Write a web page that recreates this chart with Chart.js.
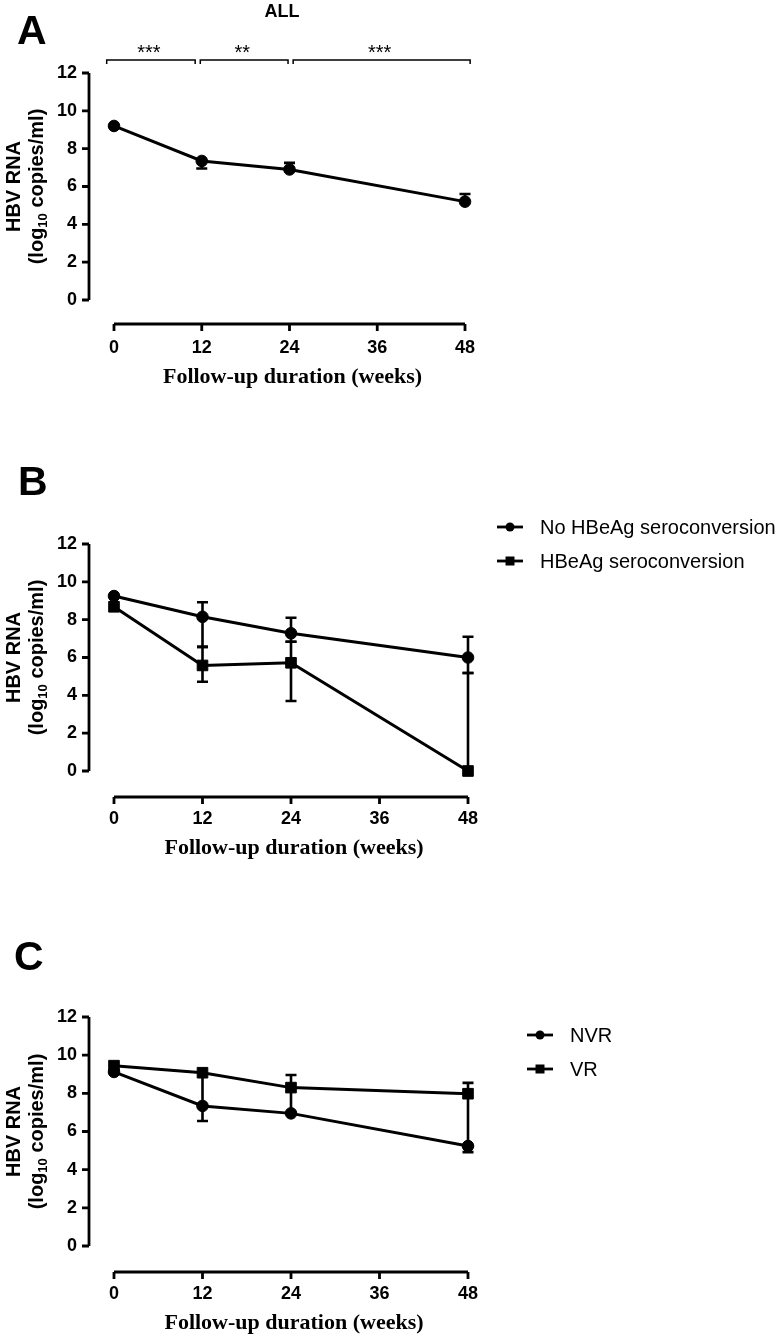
<!DOCTYPE html>
<html>
<head>
<meta charset="utf-8">
<script src="https://cdn.jsdelivr.net/npm/chart.js@4.4.0/dist/chart.umd.min.js"></script>
<style>
  html, body { margin: 0; padding: 0; background: #fff; }
  #wrap { position: relative; width: 784px; height: 1337px; }
  canvas { position: absolute; left: 0; }
</style>
</head>
<body>
<div id="wrap">
  <canvas id="chartA" width="784" height="440" style="top:0px"></canvas>
  <canvas id="chartB" width="784" height="460" style="top:440px"></canvas>
  <canvas id="chartC" width="784" height="437" style="top:900px"></canvas>
</div>
<script>
// follow-up weeks
var weeks = [0, 12, 24, 48]

// panel A - all patients
var allMean  = [9.2, 7.35, 6.9, 5.2]
var allUpper = [9.2, 7.35, 7.25, 5.6]
var allLower = [9.2, 6.95, 6.9, 5.2]
var allBrackets = [[-1, 11.1], [11.8, 23.8], [24.5, 48.7]]
var allStars    = ['***', '**', '***']

// panel B - HBeAg seroconversion
var noSeroMean  = [9.25, 8.15, 7.28, 6.0]
var noSeroUpper = [9.25, 8.92, 8.1, 7.1]
var noSeroLower = [9.25, 6.56, 6.83, 5.18]
var seroMean    = [8.68, 5.58, 5.72, 0]
var seroUpper   = [8.68, 6.56, 6.83, 5.18]
var seroLower   = [8.68, 4.72, 3.7, 0]

// panel C - NVR / VR
var nvrMean  = [9.12, 7.34, 6.95, 5.24]
var nvrUpper = [9.12, 7.34, 6.95, 5.24]
var nvrLower = [9.12, 6.55, 6.95, 4.92]
var vrMean   = [9.45, 9.08, 8.3, 7.98]
var vrUpper  = [9.45, 9.08, 8.96, 8.55]
var vrLower  = [9.45, 7.34, 6.95, 5.24]

var SANS  = '"Liberation Sans", Arial, sans-serif'
var SERIF = '"Liberation Serif", "Times New Roman", serif'

function pts(means) {
  return means.map((v, i) => ({x: weeks[i], y: v}))
}

function series(label, means, upper, lower, style) {
  return {
      label: label
    , data: pts(means)
    , errUp: upper
    , errLo: lower
    , borderColor: '#000'
    , backgroundColor: '#000'
    , borderWidth: 3
    , pointStyle: style
    , pointRadius: style == 'rect' ? 7.5 : 5.8
    , pointBorderWidth: 1
    , pointBackgroundColor: '#000'
    , tension: 0
    , clip: false
  }
}

function drawMarker(ctx, style, x, y, r) {
  ctx.beginPath()
  if (style == 'rect') ctx.rect(x - r, y - r, 2 * r, 2 * r)
  else ctx.arc(x, y, r, 0, Math.PI * 2)
  ctx.fill()
}

// prism style axes, error bars, labels, legend
var panelPlugin = {
  id: 'panel',
  beforeDatasetsDraw(chart) {
    var ctx = chart.ctx, xs = chart.scales.x, ys = chart.scales.y
    ctx.save()
    ctx.strokeStyle = '#000'
    ctx.lineWidth = 2.6
    chart.data.datasets.forEach(ds => {
      ds.data.forEach((p, i) => {
        var px = xs.getPixelForValue(p.x)
        var hi = ys.getPixelForValue(ds.errUp[i])
        var lo = ys.getPixelForValue(ds.errLo[i])
        ctx.beginPath()
        ctx.moveTo(px, hi); ctx.lineTo(px, lo)
        if (ds.errUp[i] > p.y) { ctx.moveTo(px - 5.5, hi); ctx.lineTo(px + 5.5, hi) }
        if (ds.errLo[i] < p.y) { ctx.moveTo(px - 5.5, lo); ctx.lineTo(px + 5.5, lo) }
        ctx.stroke()
      })
    })
    ctx.restore()
  },
  afterDraw(chart, args, opts) {
    var ctx = chart.ctx, xs = chart.scales.x, ys = chart.scales.y
    var area = chart.chartArea
    ctx.save()
    ctx.strokeStyle = '#000'
    ctx.fillStyle = '#000'
    ctx.lineWidth = 2.8

    // y axis, offset left of the data
    var ax = area.left - 25
    ctx.beginPath()
    ctx.moveTo(ax, ys.getPixelForValue(ys.max))
    ctx.lineTo(ax, ys.getPixelForValue(ys.min))
    ys.ticks.forEach(t => {
      var py = ys.getPixelForValue(t.value)
      ctx.moveTo(ax - 7, py); ctx.lineTo(ax, py)
    })
    ctx.stroke()

    // x axis, offset below
    var ay = area.bottom + opts.xGap
    ctx.beginPath()
    ctx.moveTo(xs.getPixelForValue(xs.min), ay)
    ctx.lineTo(xs.getPixelForValue(xs.max), ay)
    xs.ticks.forEach(t => {
      var px = xs.getPixelForValue(t.value)
      ctx.moveTo(px, ay); ctx.lineTo(px, ay + 7)
    })
    ctx.stroke()

    // axis titles
    ctx.textAlign = 'center'
    ctx.textBaseline = 'middle'
    ctx.font = 'bold 22px ' + SERIF
    ctx.fillText('Follow-up duration (weeks)', (area.left + area.right) / 2 + 3, area.bottom + 77)

    var cy = (area.top + area.bottom) / 2
    ctx.save()
    ctx.translate(0, cy)
    ctx.rotate(-Math.PI / 2)
    ctx.textBaseline = 'alphabetic'
    ctx.textAlign = 'center'
    ctx.font = 'bold 20px ' + SANS
    ctx.fillText('HBV RNA', 0, 20)
    var big = 'bold 20px ' + SANS, small = 'bold 13px ' + SANS
    ctx.font = big
    var w1 = ctx.measureText('(log').width, w3 = ctx.measureText(' copies/ml)').width
    ctx.font = small
    var w2 = ctx.measureText('10').width
    var sx = -(w1 + w2 + w3) / 2
    ctx.textAlign = 'left'
    ctx.font = big
    ctx.fillText('(log', sx, 43)
    ctx.font = small
    ctx.fillText('10', sx + w1, 47)
    ctx.font = big
    ctx.fillText(' copies/ml)', sx + w1 + w2, 43)
    ctx.restore()

    // panel letter
    ctx.textAlign = 'left'
    ctx.textBaseline = 'middle'
    ctx.font = 'bold 41px ' + SANS
    ctx.fillText(opts.letter, opts.letterX, opts.letterY)

    // title + significance brackets
    if (opts.title) {
      ctx.textAlign = 'center'
      ctx.font = 'bold 18px ' + SANS
      ctx.fillText(opts.title, 282, 12)
    }
    if (opts.brackets) {
      ctx.lineWidth = 1.5
      ctx.font = '20px ' + SANS
      opts.brackets.forEach((b, i) => {
        var x0 = xs.getPixelForValue(b[0]), x1 = xs.getPixelForValue(b[1])
        ctx.beginPath()
        ctx.moveTo(x0, 64); ctx.lineTo(x0, 60); ctx.lineTo(x1, 60); ctx.lineTo(x1, 64)
        ctx.stroke()
        ctx.fillText(opts.stars[i], (x0 + x1) / 2 - 2, 53)
      })
    }

    // legend
    if (opts.legend) {
      var lg = opts.legend
      ctx.lineWidth = 2.8
      ctx.textAlign = 'left'
      ctx.font = '20px ' + SANS
      chart.data.datasets.forEach((ds, i) => {
        var ly = lg.y + i * 34
        ctx.beginPath()
        ctx.moveTo(lg.x, ly); ctx.lineTo(lg.x + 26, ly)
        ctx.stroke()
        drawMarker(ctx, ds.pointStyle, lg.x + 13, ly, 4.5)
        ctx.fillText(ds.label, lg.x + 43, ly + 1)
      })
    }
    ctx.restore()
  }
}

var tickFont = {family: SANS, size: 18, weight: 'bold'}

function makeChart(id, datasets, layout, panel) {
  return new Chart(document.getElementById(id), {
    type: 'line',
    data: {datasets: datasets},
    plugins: [panelPlugin],
    options: {
      responsive: false,
      animation: false,
      layout: {padding: layout},
      plugins: {legend: {display: false}, tooltip: {enabled: false}, panel: panel},
      scales: {
        x: {
          type: 'linear', min: 0, max: 48,
          grid: {display: false, drawTicks: false}, border: {display: false},
          ticks: {stepSize: 12, padding: 37, color: '#000', font: tickFont},
          afterFit: s => { s.height = 60 }
        },
        y: {
          min: 0, max: 12,
          grid: {display: false, drawTicks: false}, border: {display: false},
          ticks: {stepSize: 2, padding: 37, color: '#000', font: tickFont},
          afterFit: s => { s.width = 70 }
        }
      }
    }
  })
}

makeChart('chartA',
  [series('ALL', allMean, allUpper, allLower, 'circle')],
  {left: 44, right: 319, top: 73, bottom: 80},
  {letter: 'A', letterX: 17, letterY: 33, xGap: 24, title: 'ALL', brackets: allBrackets, stars: allStars})

makeChart('chartB',
  [ series('No HBeAg seroconversion', noSeroMean, noSeroUpper, noSeroLower, 'circle')
  , series('HBeAg seroconversion', seroMean, seroUpper, seroLower, 'rect') ],
  {left: 44, right: 316, top: 104, bottom: 69},
  {letter: 'B', letterX: 18, letterY: 44, xGap: 26, legend: {x: 497, y: 87}})

makeChart('chartC',
  [ series('NVR', nvrMean, nvrUpper, nvrLower, 'circle')
  , series('VR', vrMean, vrUpper, vrLower, 'rect') ],
  {left: 44, right: 316, top: 117, bottom: 31},
  {letter: 'C', letterX: 14, letterY: 59, xGap: 26, legend: {x: 527, y: 135}})
</script>
</body>
</html>
